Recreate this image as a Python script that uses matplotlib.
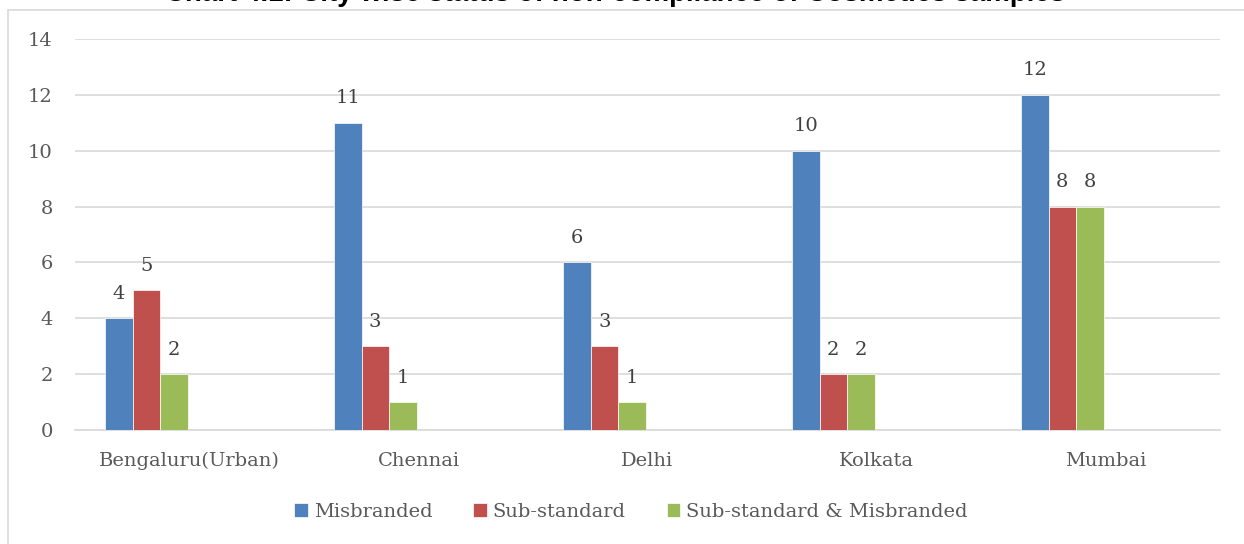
import matplotlib
matplotlib.use("Agg")
import matplotlib.pyplot as plt
from matplotlib.patches import Rectangle
import numpy as np

cities = ["Bengaluru(Urban)", "Chennai", "Delhi", "Kolkata", "Mumbai"]
series_names = ["Misbranded", "Sub-standard", "Sub-standard & Misbranded"]
misbranded = [4, 11, 6, 10, 12]
sub_standard = [5, 3, 3, 2, 8]
both = [2, 1, 1, 2, 8]
yticks = [0, 2, 4, 6, 8, 10, 12, 14]
title = "Chart 4.1: City wise status of non-compliance of Cosmetics samples"

colors = ["#4F81BD", "#C0504D", "#9BBB59"]
text_color = "#595959"
serif = ["DejaVu Serif"]

fig = plt.figure(figsize=(12.44, 5.44), dpi=100)
W, H = 1244, 544
ax = fig.add_axes([75 / W, 1 - 430 / H, (1220 - 75) / W, (430 - 39) / H])

# outer chart border
fig.patches.append(Rectangle((8 / W, -0.05), 1.1, 1 - 10 / H + 0.05, transform=fig.transFigure,
                             fill=False, edgecolor="#D9D9D9", linewidth=1.2))

x = np.arange(len(cities))
width = 27.5 / 229
first = -0.5 + 30 / 229 + width / 2
for k, (vals, name) in enumerate(zip([misbranded, sub_standard, both], series_names)):
    pos = x + first + k * width
    ax.bar(pos, vals, width=width, color=colors[k], label=name, zorder=3,
           edgecolor="white", linewidth=0.5)
    for p, v in zip(pos, vals):
        ax.text(p, v + 0.55, str(v), ha="center", va="bottom", fontsize=14,
                color="#404040", family=serif)

ax.set_xlim(-0.5, len(cities) - 0.5)
ax.set_ylim(0, 14)
ax.set_yticks(yticks)
ax.set_xticks(x)
ax.set_xticklabels(cities)
ax.yaxis.grid(True, color="#D9D9D9", linewidth=1.2, zorder=0)
ax.set_axisbelow(True)
for s in ["top", "right", "left"]:
    ax.spines[s].set_visible(False)
ax.spines["bottom"].set_color("#D9D9D9")
ax.spines["bottom"].set_linewidth(1.2)
ax.tick_params(axis="both", length=0)
ax.tick_params(axis="y", pad=16)
ax.tick_params(axis="x", pad=16)
for lab in ax.get_xticklabels() + ax.get_yticklabels():
    lab.set_family(serif)
    lab.set_fontsize(14)
    lab.set_color(text_color)

leg = fig.legend(loc="center", bbox_to_anchor=(631 / W, 1 - 512 / H), ncol=3, frameon=False,
                 prop={"family": serif, "size": 14}, handlelength=0.7, handleheight=0.7,
                 handletextpad=0.3, columnspacing=2.1)
for t in leg.get_texts():
    t.set_color(text_color)

fig.text(615 / W, 1 - 1.0 / H, title, ha="center", va="baseline", fontsize=20,
         fontweight="bold", family=["Liberation Sans", "DejaVu Sans"], color="black")

fig.savefig("out.png", dpi=100)
